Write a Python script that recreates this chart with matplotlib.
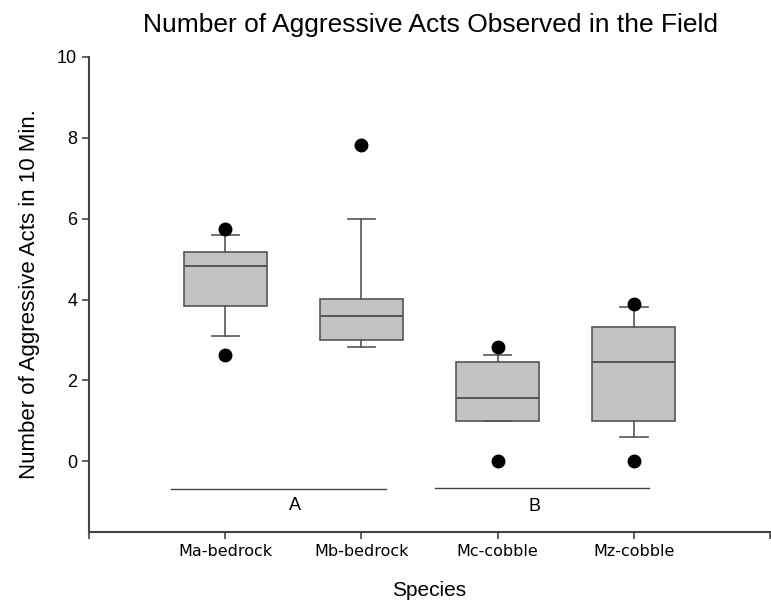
import matplotlib.pyplot as plt

# data
species = ['Ma-bedrock', 'Mb-bedrock', 'Mc-cobble', 'Mz-cobble']
q1 = [3.85, 3.0, 1.0, 1.0]
median = [4.82, 3.6, 1.57, 2.45]
q3 = [5.18, 4.02, 2.45, 3.32]
whis_lo = [3.1, 2.82, 1.0, 0.6]
whis_hi = [5.6, 6.0, 2.63, 3.82]
outliers = [[2.63, 5.75], [7.82], [0.0, 2.82], [0.0, 3.88]]

plt.rcParams['font.family'] = ['Liberation Sans', 'DejaVu Sans']

fig = plt.figure(figsize=(7.71, 6.03), dpi=100)
ax = fig.add_axes([0.1154, 0.1177, 0.8835, 0.7878])

stats = []
for i, name in enumerate(species):
    stats.append({'label': name, 'q1': q1[i], 'med': median[i], 'q3': q3[i],
                  'whislo': whis_lo[i], 'whishi': whis_hi[i], 'fliers': outliers[i]})

edge = '#555555'
ax.bxp(stats, positions=[1, 2, 3, 4], widths=0.61, capwidths=0.2, patch_artist=True,
       boxprops=dict(facecolor='#c3c3c3', edgecolor=edge, linewidth=1.2),
       medianprops=dict(color=edge, linewidth=1.4),
       whiskerprops=dict(color=edge, linewidth=1.2),
       capprops=dict(color=edge, linewidth=1.2),
       flierprops=dict(marker='o', markerfacecolor='black', markeredgecolor='black', markersize=9))

# significance groups
ax.plot([0.6, 2.18], [-0.68, -0.68], color='#444444', linewidth=1)
ax.plot([2.54, 4.11], [-0.65, -0.65], color='#444444', linewidth=1)
ax.text(1.51, -1.1, 'A', ha='center', va='center', fontsize=13)
ax.text(3.27, -1.12, 'B', ha='center', va='center', fontsize=13)

ax.set_xlim(0, 5)
ax.set_ylim(-1.75, 10)
ax.set_xticks([0, 1, 2, 3, 4, 5])
ax.set_xticklabels([''] + species + [''], fontfamily='DejaVu Sans', fontsize=11.5)
ax.set_yticks([0, 2, 4, 6, 8, 10])
ax.tick_params(axis='both', direction='out', length=5, width=1.2, color='#444444')
ax.tick_params(axis='y', labelsize=13)

for s in ['top', 'right']:
    ax.spines[s].set_visible(False)
for s in ['left', 'bottom']:
    ax.spines[s].set_color('#444444')
    ax.spines[s].set_linewidth(1.5)

ax.set_xlabel('Species', fontsize=15, labelpad=16)
ax.set_ylabel('Number of Aggressive Acts in 10 Min.', fontsize=16, labelpad=12)
fig.suptitle('Number of Aggressive Acts Observed in the Field', x=0.558, y=0.978, fontsize=19)

fig.savefig('out.png', dpi=100)
